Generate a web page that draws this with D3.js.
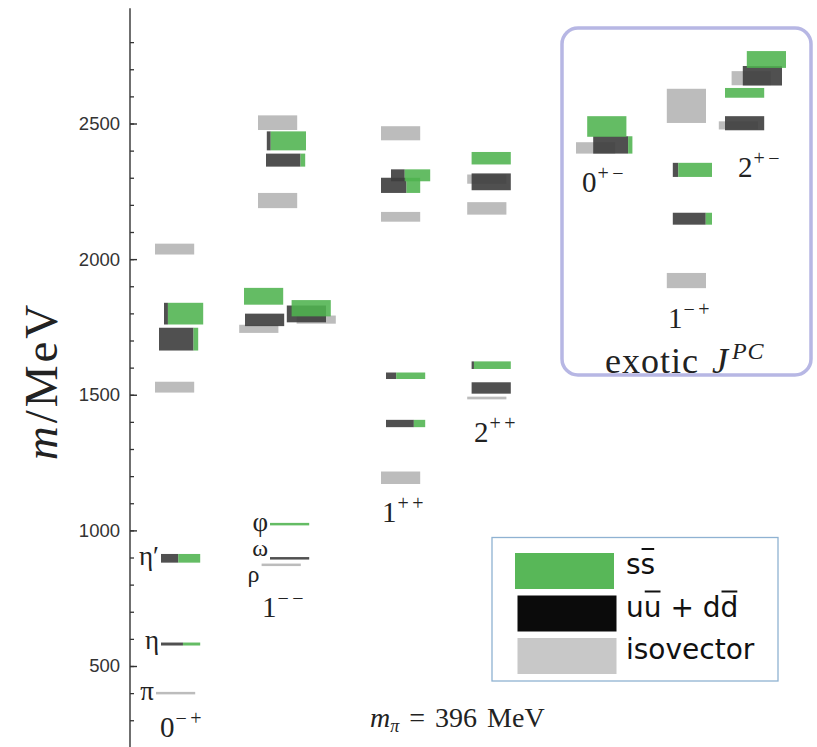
<!DOCTYPE html>
<html>
<head>
<meta charset="utf-8">
<script src="https://cdn.jsdelivr.net/npm/d3@7"></script>
<style>
  body { margin: 0; background: #fff; }
  svg { display: block; }
</style>
</head>
<body>
<div id="chart"></div>
<script>
// J^PC channels, in the order they sit along the page
const columns = ['0-+', '1--', '1++', '2++', '0+-', '1-+', '2+-'];
const columnJ = ['0', '1', '1', '2', '0', '1', '2'];
const columnPC = ['\u2212+', '\u2212\u2212', '++', '++', '+\u2212', '\u2212+', '+\u2212'];

// isovector levels: [channel, shift, mass MeV, half width MeV]
const isovector = [
  ['0-+', 0.025, 400, 3],
  ['0-+', 0, 1528, 20],
  ['0-+', 0, 2037, 20],
  ['1--', 0.09, 873, 4],
  ['1--', -0.47, 1743, 15],
  ['1--', 0.965, 1777, 15],
  ['1--', 0, 2216, 28],
  ['1--', 0, 2503, 27],
  ['1++', 0, 1194, 23],
  ['1++', 0, 2156, 18],
  ['1++', 0, 2464, 26],
  ['2++', 0, 1488, 5],
  ['2++', 0, 2187, 23],
  ['2++', 0, 2295, 17],
  ['0+-', 0, 2410, 21],
  ['1-+', 0, 1921, 28],
  ['1-+', 0, 2565, 63],
  ['2+-', 0, 2493, 15],
  ['2+-', 0.32, 2667, 26],
];

// isoscalar levels: [channel, shift, mass MeV, half width MeV, s-sbar fraction]
const isoscalar = [
  ['0-+', 0.15, 581, 5.5, 0.44],
  ['0-+', 0.15, 897, 16, 0.56],
  ['0-+', 0.1, 1705, 42, 0.12],
  ['0-+', 0.225, 1799, 40, 0.9],
  ['1--', 0.3, 897, 4, 0],
  ['1--', 0.3, 1023, 4, 1],
  ['1--', -0.325, 1776, 23, 0],
  ['1--', -0.35, 1863, 31, 1],
  ['1--', 0.72, 1798, 31, 0],
  ['1--', 0.84, 1819, 30, 1],
  ['1--', 0.2, 2365, 24, 0.12],
  ['1--', 0.22, 2436, 35, 0.9],
  ['1++', 0.125, 1394, 13.5, 0.29],
  ['1++', 0.125, 1570, 12, 0.74],
  ['1++', 0, 2272, 28, 0.35],
  ['1++', 0.25, 2309, 22, 0.65],
  ['2++', 0.11, 1525, 21, 0],
  ['2++', 0.11, 1609, 14, 0.94],
  ['2++', 0.11, 2285, 31, 0],
  ['2++', 0.11, 2372, 23, 1],
  ['0+-', 0.43, 2421, 32, 0.11],
  ['0+-', 0.28, 2489, 38, 1],
  ['1-+', 0.15, 2149, 22, 0.16],
  ['1-+', 0.15, 2329, 26, 0.86],
  ['2+-', 0.155, 2501, 26, 0],
  ['2+-', 0.155, 2613, 18, 1],
  ['2+-', 0.6, 2676, 36, 0],
  ['2+-', 0.7, 2736, 31, 1],
];

// named ground states: [channel, mass, name]
const named = [
  ['0-+', 400, '\u03c0'],
  ['0-+', 581, '\u03b7'],
  ['0-+', 897, '\u03b7\u2032'],
  ['1--', 1023, '\u03c6'],
  ['1--', 897, '\u03c9'],
  ['1--', 873, '\u03c1'],
];

const majorTicks = [500, 1000, 1500, 2000, 2500];
const minorTicks = d3.range(300, 2900, 100);

const legendItems = ['ss', 'uu + dd', 'isovector'];
const legendBars = [[1], [1, 6], []]; // characters that carry an antiquark bar

// layout (not data)
const columnSlot = { '0-+': 0.625, '1--': 3.2, '1++': 6.275, '2++': 8.43, '0+-': 11.15, '1-+': 13.42, '2+-': 14.72 };
const labelSlot = { '0-+': 0.75, '1--': 3.3, '1++': 6.3, '2++': 8.6, '0+-': 11.3, '1-+': 13.45, '2+-': 15.2 };
const labelMass = { '0-+': 238, '1--': 680, '1++': 1031, '2++': 1326, '0+-': 2248, '1-+': 1746, '2+-': 2303 };
const nameDy = { '\u03c0': 7, '\u03b7': 5, '\u03b7\u2032': 7, '\u03c6': 7, '\u03c9': -2, '\u03c1': 17 };
const nameSize = { '\u03c0': 27, '\u03b7': 27, '\u03b7\u2032': 27, '\u03c6': 27, '\u03c9': 24, '\u03c1': 24 };

const COLORS = { ss: '#4fb34f', light: '#3d3d3d', iso: '#bcbcbc' };
const SERIF = '"Liberation Serif", "DejaVu Serif", serif';

const W = 817, H = 747;
const svg = d3.select('#chart').append('svg').attr('width', W).attr('height', H);

const y = d3.scaleLinear().domain([500, 2500]).range([666, 123.5]);
const x = d3.scaleLinear().domain([0, 1]).range([130, 170]); // one unit = one bar width
const barW = x(0.98) - x(0);

function barHeight(m, err) {
  return Math.max(y(m - err) - y(m + err), 2.5);
}

// exotic frame, drawn first so the levels sit over it
svg.append('rect')
  .attr('x', 562).attr('y', 28).attr('width', 249).attr('height', 347)
  .attr('rx', 16)
  .attr('fill', 'none').attr('stroke', '#b7b7e4').attr('stroke-width', 3.5);

// axis
const axisG = svg.append('g').attr('transform', 'translate(' + x(0) + ',0)');
axisG.append('line')
  .attr('y1', y(2925)).attr('y2', H)
  .attr('stroke', '#333').attr('stroke-width', 1.4);
axisG.append('g')
  .call(d3.axisRight(y).tickValues(minorTicks).tickSize(4).tickFormat(''))
  .call(g => g.select('.domain').remove())
  .selectAll('line').attr('stroke', '#333').attr('stroke-width', 1.3);
axisG.append('g')
  .call(d3.axisRight(y).tickValues(majorTicks).tickSize(7).tickFormat(''))
  .call(g => g.select('.domain').remove())
  .selectAll('line').attr('stroke', '#333').attr('stroke-width', 1.4);
axisG.append('g')
  .call(d3.axisLeft(y).tickValues(majorTicks).tickSize(0).tickPadding(10).tickFormat(d3.format('d')))
  .call(g => g.select('.domain').remove())
  .selectAll('text')
  .attr('font-family', '"Liberation Sans", Arial, sans-serif')
  .attr('font-size', 18.5)
  .attr('fill', '#333');

// axis title
svg.append('text')
  .attr('transform', 'translate(57,381) rotate(-90)')
  .attr('text-anchor', 'middle')
  .attr('font-family', SERIF)
  .attr('font-size', 47)
  .attr('fill', '#222')
  .attr('letter-spacing', 3)
  .call(t => {
    t.append('tspan').attr('font-style', 'italic').text('m');
    t.append('tspan').text('/MeV');
  });

// levels
const levels = svg.append('g');

levels.selectAll('rect.iso')
  .data(isovector)
  .join('rect')
  .attr('class', 'iso')
  .attr('x', d => x(columnSlot[d[0]] + d[1]))
  .attr('y', d => y(d[2]) - barHeight(d[2], d[3]) / 2)
  .attr('width', barW)
  .attr('height', d => barHeight(d[2], d[3]))
  .attr('fill', COLORS.iso);

isoscalar.forEach(d => {
  const x0 = x(columnSlot[d[0]] + d[1]);
  const h = barHeight(d[2], d[3]);
  const y0 = y(d[2]) - h / 2;
  const darkW = barW * (1 - d[4]);
  if (darkW > 0) {
    levels.append('rect')
      .attr('x', x0).attr('y', y0).attr('width', darkW).attr('height', h)
      .attr('fill', COLORS.light).attr('fill-opacity', 0.9);
  }
  if (d[4] > 0) {
    levels.append('rect')
      .attr('x', x0 + darkW).attr('y', y0).attr('width', barW - darkW).attr('height', h)
      .attr('fill', COLORS.ss).attr('fill-opacity', 0.88);
  }
});

// state names to the left of their level
svg.append('g').selectAll('text')
  .data(named)
  .join('text')
  .attr('x', d => {
    const lvl = isoscalar.find(s => s[0] === d[0] && s[2] === d[1]) ||
                isovector.find(s => s[0] === d[0] && s[2] === d[1]);
    return x(columnSlot[d[0]] + lvl[1]) - 2;
  })
  .attr('y', d => y(d[1]) + nameDy[d[2]])
  .attr('text-anchor', 'end')
  .attr('font-family', SERIF)
  .attr('font-size', d => nameSize[d[2]])
  .attr('fill', '#222')
  .text(d => d[2]);

// J^PC labels
columns.forEach((c, i) => {
  const t = svg.append('text')
    .attr('x', x(labelSlot[c]))
    .attr('y', y(labelMass[c]))
    .attr('font-family', SERIF)
    .attr('font-size', 29)
    .attr('fill', '#222');
  t.append('tspan').text(columnJ[i]);
  t.append('tspan').attr('dy', -12).attr('font-size', 20).attr('letter-spacing', 3.5).attr('dx', 1).text(columnPC[i]);
});

// exotic label
svg.append('text')
  .attr('x', 605).attr('y', 373)
  .attr('font-family', SERIF)
  .attr('font-size', 36)
  .attr('letter-spacing', 1)
  .attr('fill', '#222')
  .call(t => {
    t.append('tspan').text('exotic ');
    t.append('tspan').attr('font-style', 'italic').attr('dx', 3).text('J');
    t.append('tspan').attr('font-style', 'italic').attr('font-size', 24).attr('dy', -14).attr('dx', 3).text('PC');
  });

// pion mass note
svg.append('text')
  .attr('x', 370).attr('y', 727)
  .attr('font-family', SERIF)
  .attr('font-size', 28)
  .attr('fill', '#222')
  .call(t => {
    t.append('tspan').attr('font-style', 'italic').text('m');
    t.append('tspan').attr('font-size', 18).attr('font-style', 'italic').attr('dy', 5).text('\u03c0');
    t.append('tspan').attr('dy', -5).attr('dx', 10).text('=');
    t.append('tspan').attr('dx', 10).text('396');
    t.append('tspan').attr('dx', 10).text('MeV');
  });

// legend
const legend = svg.append('g');
legend.append('rect')
  .attr('x', 492).attr('y', 537.5).attr('width', 286).attr('height', 143.5)
  .attr('fill', '#fff').attr('stroke', '#8fb2d2').attr('stroke-width', 1.3);
const swatchFill = [COLORS.ss, '#0b0b0b', '#c8c8c8'];
const swatchX = [515, 517.5, 517.5];
legendItems.forEach((name, i) => {
  const top = 553 + i * 42.5;
  legend.append('rect')
    .attr('x', swatchX[i]).attr('y', top).attr('width', 99).attr('height', 36)
    .attr('fill', swatchFill[i]).attr('fill-opacity', i === 0 ? 0.95 : 1);
  const base = top + 21;
  const txt = legend.append('text')
    .attr('x', 626).attr('y', base)
    .attr('font-family', '"DejaVu Sans", sans-serif')
    .attr('font-size', 28)
    .attr('fill', '#111')
    .text(name);
  legendBars[i].forEach(ci => {
    const r = txt.node().getExtentOfChar(ci);
    legend.append('line')
      .attr('x1', r.x + 1).attr('x2', r.x + r.width - 1)
      .attr('y1', base - 25).attr('y2', base - 25)
      .attr('stroke', '#111').attr('stroke-width', 2);
  });
});
</script>
</body>
</html>
